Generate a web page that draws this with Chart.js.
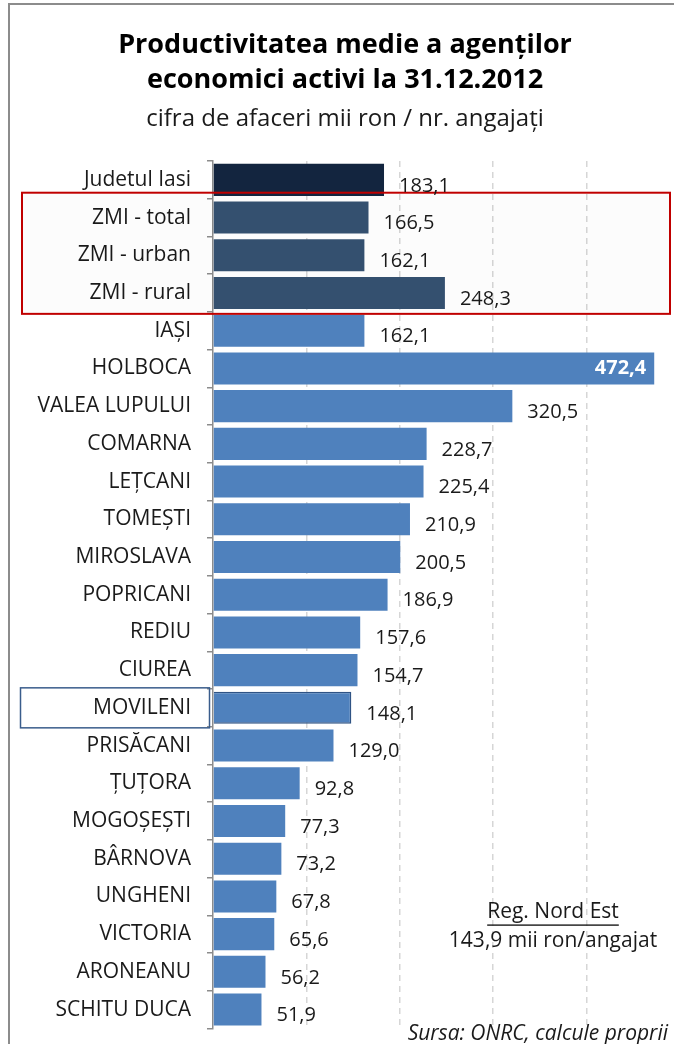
<!DOCTYPE html>
<html>
<head>
<meta charset="utf-8">
<script src="https://cdn.jsdelivr.net/npm/chart.js@4"></script>
<style>
  html, body { margin: 0; padding: 0; background: #fff; overflow: hidden; }
  #wrap { position: relative; width: 674px; height: 1044px; overflow: hidden; }
  #frame { position: absolute; left: 8px; top: 3px; width: 700px; height: 1100px;
           border-left: 2px solid #8c8c8c; border-top: 2px solid #8c8c8c; }
  canvas { position: absolute; left: 0; top: 0; }
</style>
</head>
<body>
<div id="wrap">
  <div id="frame"></div>
  <canvas id="prodChart" width="680" height="1057"></canvas>
</div>
<script>
const categories = ['Judetul Iasi', 'ZMI - total', 'ZMI - urban', 'ZMI - rural', 'IAȘI', 'HOLBOCA',
  'VALEA LUPULUI', 'COMARNA', 'LEȚCANI', 'TOMEȘTI', 'MIROSLAVA', 'POPRICANI', 'REDIU', 'CIUREA',
  'MOVILENI', 'PRISĂCANI', 'ȚUȚORA', 'MOGOȘEȘTI', 'BÂRNOVA', 'UNGHENI', 'VICTORIA', 'ARONEANU', 'SCHITU DUCA'];
const values = [183.1, 166.5, 162.1, 248.3, 162.1, 472.4, 320.5, 228.7, 225.4, 210.9, 200.5, 186.9,
  157.6, 154.7, 148.1, 129.0, 92.8, 77.3, 73.2, 67.8, 65.6, 56.2, 51.9];
const zmiRows = ['ZMI - total', 'ZMI - urban', 'ZMI - rural'];
const highlighted = 'MOVILENI';
const regionAvg = 143.9;

const FONT = '"Open Sans", sans-serif';
const fmt = v => v.toFixed(1).replace('.', ',');
const maxVal = Math.max(...values);

function barColor(i) {
  if (i === 0) return '#13253f';
  if (zmiRows.includes(categories[i])) return '#34506f';
  return '#4f81bd';
}

function zmiBox(chart) {
  const y = chart.scales.y;
  const half = (y.getPixelForValue(1) - y.getPixelForValue(0)) / 2;
  const i0 = categories.indexOf(zmiRows[0]), i1 = categories.indexOf(zmiRows[zmiRows.length - 1]);
  const top = y.getPixelForValue(i0) - half - 6, bot = y.getPixelForValue(i1) + half + 2;
  return { top, bot };
}

// light box with red border around the ZMI rows, blue box round the highlighted label
const boxes = {
  id: 'boxes',
  beforeDatasetsDraw(chart) {
    const c = chart.ctx, b = zmiBox(chart);
    c.save();
    c.fillStyle = 'rgba(0,0,0,0.012)';
    c.fillRect(22, b.top, 648, b.bot - b.top);
    c.restore();
  },
  afterDatasetsDraw(chart) {
    const c = chart.ctx, b = zmiBox(chart), y = chart.scales.y;
    c.save();
    c.strokeStyle = '#c00000';
    c.lineWidth = 2;
    c.strokeRect(22, b.top, 648, b.bot - b.top);
    const hy = y.getPixelForValue(categories.indexOf(highlighted));
    c.strokeStyle = '#3a5d8c';
    c.lineWidth = 1.5;
    c.strokeRect(20.5, hy - 20, 189, 40);
    c.restore();
  }
};

const valueLabels = {
  id: 'valueLabels',
  afterDatasetsDraw(chart) {
    const c = chart.ctx;
    const meta = chart.getDatasetMeta(0);
    c.save();
    c.textBaseline = 'middle';
    meta.data.forEach((bar, i) => {
      const txt = fmt(values[i]);
      if (values[i] === maxVal) {
        c.font = 'bold 20px ' + FONT;
        c.fillStyle = '#fff';
        c.textAlign = 'right';
        c.fillText(txt, bar.x - 8, bar.y);
      } else {
        c.font = '20px ' + FONT;
        c.fillStyle = '#1a1a1a';
        c.textAlign = 'left';
        c.fillText(txt, bar.x + 15, bar.y + 6);
      }
    });
    c.restore();
  }
};

const notes = {
  id: 'notes',
  afterDraw(chart) {
    const c = chart.ctx, a = chart.chartArea, y = chart.scales.y;
    const cx = a.right - 127;
    const y1 = y.getPixelForValue(19) + 16;
    c.save();
    c.fillStyle = '#1a1a1a';
    c.textAlign = 'center';
    c.textBaseline = 'middle';
    c.font = '21px ' + FONT;
    const t1 = 'Reg. Nord Est';
    c.fillText(t1, cx, y1);
    const w = c.measureText(t1).width;
    c.fillRect(cx - w / 2, y1 + 12, w, 1.4);
    c.fillText(fmt(regionAvg) + ' mii ron/angajat', cx, y1 + 29);
    c.font = 'italic 21px ' + FONT;
    c.textAlign = 'right';
    c.textBaseline = 'alphabetic';
    c.fillText('Sursa: ONRC, calcule proprii', 668, 1040);
    c.restore();
  }
};

new Chart(document.getElementById('prodChart'), {
  type: 'bar',
  data: {
    labels: categories,
    datasets: [{
      data: values,
      backgroundColor: ctx => barColor(ctx.dataIndex),
      borderColor: ctx => categories[ctx.dataIndex] === highlighted ? '#2f5384' : 'rgba(0,0,0,0)',
      borderWidth: ctx => categories[ctx.dataIndex] === highlighted ? 1.5 : 0,
      barPercentage: 0.85,
      categoryPercentage: 1.0
    }]
  },
  plugins: [boxes, valueLabels, notes],
  options: {
    indexAxis: 'y',
    responsive: false,
    animation: false,
    layout: { padding: { left: 10, right: 0, bottom: 0 } },
    plugins: {
      legend: { display: false },
      tooltip: { enabled: false },
      title: {
        display: true,
        text: ['Productivitatea medie a agenților', 'economici activi la 31.12.2012'],
        color: '#000',
        font: { family: FONT, size: 27, weight: 'bold', lineHeight: 1.3 },
        padding: { top: 28, bottom: 0 }
      },
      subtitle: {
        display: true,
        text: 'cifra de afaceri mii ron / nr. angajați',
        color: '#1a1a1a',
        font: { family: FONT, size: 24, lineHeight: 1.2 },
        padding: { top: 7, bottom: 27 }
      }
    },
    scales: {
      x: {
        min: 0,
        max: 500,
        ticks: { display: false, stepSize: 100 },
        grid: {
          drawTicks: false,
          color: ctx => (ctx.tick && ctx.tick.value > 0) ? '#d6d6d6' : 'rgba(0,0,0,0)',
          lineWidth: 1.5
        },
        border: { display: false, dash: [6, 5] }
      },
      y: {
        afterFit: scale => { scale.width = 203; },
        ticks: { color: '#1a1a1a', font: { family: FONT, size: 21 }, padding: 16 },
        grid: { drawOnChartArea: false, drawTicks: true, tickLength: 6, color: '#8c8c8c', lineWidth: 1.5 },
        border: { display: true, color: '#8c8c8c', width: 1.5 }
      }
    }
  }
});
</script>
</body>
</html>
